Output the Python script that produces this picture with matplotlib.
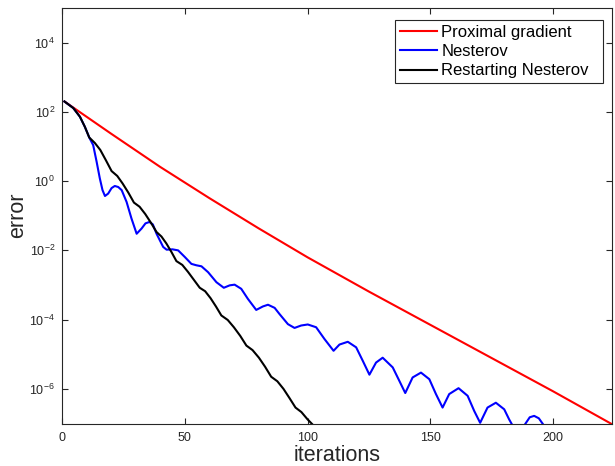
import numpy as np
import matplotlib
matplotlib.use("Agg")
import matplotlib.pyplot as plt

plt.rcParams['font.family'] = ['Liberation Sans', 'DejaVu Sans']
plt.rcParams['mathtext.fontset'] = 'custom'
plt.rcParams['mathtext.rm'] = 'Liberation Sans'
plt.rcParams['mathtext.it'] = 'Liberation Sans'
plt.rcParams['mathtext.default'] = 'regular'

# ---- data (iteration, log10 of error) ----
prox_iter = [1, 20, 40, 60, 80, 100, 125, 150, 175, 200, 224]
prox_logerr = [2.30, 1.37, 0.41, -0.49, -1.36, -2.20, -3.19, -4.15, -5.11, -6.07, -7.02]

nest_iter = [1, 4.6, 7.3, 9.3, 11.1, 12.7, 14.1, 15.4, 16.5, 17.5, 18.8, 20.2,
             21.5, 22.9, 24.3, 26.3, 28.3, 30.4, 32.4, 34.0, 35.6, 37.0, 38.5,
             41.2, 42.6, 45.0, 47.3, 50.0, 52.7, 54.7, 56.8, 59.5, 62.9, 65.9,
             68.3, 70.3, 73.0, 75.7, 79.1, 81.8, 83.9, 86.6, 88.6, 92.0, 94.7,
             97.4, 100.1, 103.5, 106.9, 110.6, 113.0, 116.4, 119.8, 122.5,
             125.2, 127.9, 130.6, 134.7, 137.4, 139.8, 142.8, 146.2, 149.6,
             152.3, 155.0, 157.7, 161.5, 165.2, 167.9, 170.3, 173.3, 176.7,
             180.1, 182.1, 183.2, 185.8, 188.6, 190.5, 192.3, 194.2, 195.9,
             198.0, 202.0]
nest_logerr = [2.30, 2.11, 1.86, 1.57, 1.26, 1.04, 0.56, 0.08, -0.26, -0.43,
               -0.36, -0.20, -0.14, -0.17, -0.26, -0.60, -1.08, -1.52, -1.37,
               -1.22, -1.18, -1.25, -1.52, -1.90, -1.98, -1.97, -2.00, -2.19,
               -2.39, -2.43, -2.46, -2.63, -2.92, -3.08, -3.01, -2.99, -3.11,
               -3.40, -3.72, -3.62, -3.57, -3.66, -3.84, -4.13, -4.24, -4.17,
               -4.14, -4.22, -4.56, -4.90, -4.72, -4.64, -4.80, -5.19, -5.59,
               -5.24, -5.10, -5.38, -5.77, -6.12, -5.67, -5.53, -5.72, -6.15,
               -6.54, -6.15, -5.98, -6.20, -6.64, -6.98, -6.54, -6.40, -6.59,
               -6.88, -7.02, -7.40, -7.02, -6.82, -6.78, -6.85, -7.02, -7.40,
               -7.90]

rnest_iter = [1, 4.6, 7.3, 9.3, 11.1, 13.4, 15.6, 17.9, 20.2, 22.5, 24.7, 27.0,
              29.3, 31.6, 33.9, 36.2, 38.5, 40.5, 42.5, 44.6, 46.6, 49.0, 51.3,
              53.7, 56.1, 58.3, 60.5, 62.7, 64.9, 67.5, 70.0, 72.6, 75.1, 77.6,
              80.2, 82.7, 85.2, 87.7, 90.2, 92.6, 95.1, 97.5, 100.0, 102.2, 104.5]
rnest_logerr = [2.30, 2.11, 1.86, 1.57, 1.26, 1.10, 0.90, 0.60, 0.29, 0.15,
                -0.07, -0.33, -0.62, -0.74, -0.95, -1.20, -1.47, -1.60, -1.80,
                -2.05, -2.31, -2.42, -2.62, -2.85, -3.08, -3.18, -3.38, -3.62,
                -3.88, -4.01, -4.22, -4.47, -4.75, -4.88, -5.10, -5.36, -5.65,
                -5.78, -6.00, -6.26, -6.54, -6.67, -6.88, -7.04, -7.40]

labels = ['Proximal gradient', 'Nesterov', 'Restarting Nesterov']
colors = ['#ff0000', '#0000ff', '#000000']
x_ticks = [0, 50, 100, 150, 200]
y_ticks = [1e-6, 1e-4, 1e-2, 1e0, 1e2, 1e4]

axc = '#262626'

fig = plt.figure(figsize=(6.15, 4.66), dpi=100)
ax = fig.add_axes([62 / 615, 1 - 423.5 / 466, 550 / 615, 415.5 / 466])

series = [(prox_iter, prox_logerr), (nest_iter, nest_logerr), (rnest_iter, rnest_logerr)]
for (xs, ls), lab, col in zip(series, labels, colors):
    ax.semilogy(xs, 10.0 ** np.asarray(ls), color=col, lw=1.5, label=lab)

ax.set_xlim(0, 224)
ax.set_ylim(1e-7, 1e5)
ax.set_xticks(x_ticks)
ax.set_yticks(y_ticks)
ax.yaxis.set_minor_locator(matplotlib.ticker.NullLocator())

for s in ax.spines.values():
    s.set_color(axc)
    s.set_linewidth(0.8)
ax.tick_params(which='both', direction='in', top=True, right=True,
               length=4.5, width=0.8, color=axc, labelcolor=axc, labelsize=9)
ax.tick_params(axis='x', pad=6)
ax.tick_params(axis='y', pad=5)

ax.set_xlabel('iterations', fontsize=15.5, color=axc, labelpad=1)
ax.set_ylabel('error', fontsize=15.5, color=axc, labelpad=1)

handles, _ = ax.get_legend_handles_labels()
leg_labels = [labels[0], labels[1], labels[2] + '  ']
leg = ax.legend(handles, leg_labels, loc='upper right', bbox_to_anchor=(0.9836, 0.971),
                borderaxespad=0, fontsize=12, fancybox=False, framealpha=1,
                edgecolor=axc, handlelength=2.2, handletextpad=0.25,
                borderpad=0.3, labelspacing=0.25)
leg.get_frame().set_linewidth(0.8)

fig.savefig('out.png', dpi=100)
